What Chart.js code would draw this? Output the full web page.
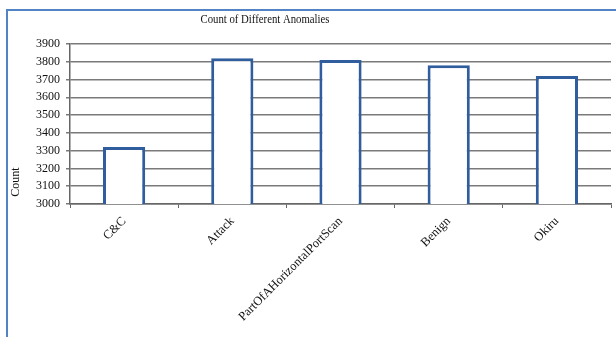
<!DOCTYPE html>
<html>
<head>
<meta charset="utf-8">
<script src="https://cdn.jsdelivr.net/npm/chart.js@4/dist/chart.umd.min.js"></script>
<style>
  html, body { margin: 0; padding: 0; background: #ffffff; }
  #wrap { position: relative; width: 616px; height: 337px; overflow: hidden; background: #ffffff; }
  #frame { position: absolute; left: 6px; top: 9px; width: 720px; height: 400px; border: 2px solid #5283c4; box-sizing: border-box; }
  #c { position: absolute; left: 0; top: 0; }
</style>
</head>
<body>
<div id="wrap">
  <div id="frame"></div>
  <canvas id="c" width="616" height="337"></canvas>
</div>
<script>
// Anomaly categories and their counts
const categories = ['C&C', 'Attack', 'PartOfAHorizontalPortScan', 'Benign', 'Okiru'];
const counts = [3320, 3820, 3810, 3780, 3720];
const yMin = 3000;
const yMax = 3900;
const yStep = 100;
const chartTitle = 'Count of Different Anomalies';
const yTitle = 'Count';

const serif = '"Liberation Serif", "Times New Roman", serif';

// Title (slightly condensed) and rotated y-axis caption
const captions = {
  id: 'captions',
  afterDraw(chart) {
    const ctx = chart.ctx;
    ctx.save();
    ctx.fillStyle = '#111111';
    ctx.font = '12.5px ' + serif;
    ctx.textAlign = 'center';
    ctx.textBaseline = 'middle';
    ctx.save();
    ctx.translate(265, 20);
    ctx.scale(0.86, 1);
    ctx.fillText(chartTitle, 0, 0);
    ctx.restore();
    ctx.font = '12px ' + serif;
    ctx.translate(16, 182);
    ctx.rotate(-Math.PI / 2);
    ctx.fillText(yTitle, 0, 0);
    ctx.restore();
  }
};

new Chart(document.getElementById('c'), {
  type: 'bar',
  data: {
    labels: categories,
    datasets: [{
      data: counts,
      backgroundColor: '#ffffff',
      borderColor: '#2f5d9e',
      borderWidth: 3,
      borderSkipped: false,
      categoryPercentage: 1,
      barPercentage: 0.39
    }]
  },
  options: {
    responsive: false,
    animation: false,
    layout: { padding: { top: 44, right: 5, left: 0, bottom: 0 } },
    plugins: {
      legend: { display: false },
      title: { display: false },
      tooltip: { enabled: false }
    },
    scales: {
      x: {
        afterFit(scale) { scale.height = 133; },
        grid: {
          offset: true,
          drawOnChartArea: false,
          drawTicks: true,
          tickLength: 4,
          color: '#666666',
          lineWidth: 1
        },
        border: { color: '#666666', width: 1.5 },
        ticks: {
          autoSkip: false,
          minRotation: 45,
          maxRotation: 45,
          padding: 6,
          color: '#111111',
          font: { family: serif, size: 12.5 }
        }
      },
      y: {
        min: yMin,
        max: yMax,
        afterFit(scale) { scale.width = 70; },
        grid: {
          color: '#7a7a7a',
          lineWidth: 1.5,
          tickLength: 4
        },
        border: { color: '#666666', width: 1.5 },
        ticks: {
          stepSize: yStep,
          padding: 6,
          color: '#111111',
          font: { family: serif, size: 12 },
          callback: (v) => String(v)
        }
      }
    }
  },
  plugins: [captions]
});
</script>
</body>
</html>
